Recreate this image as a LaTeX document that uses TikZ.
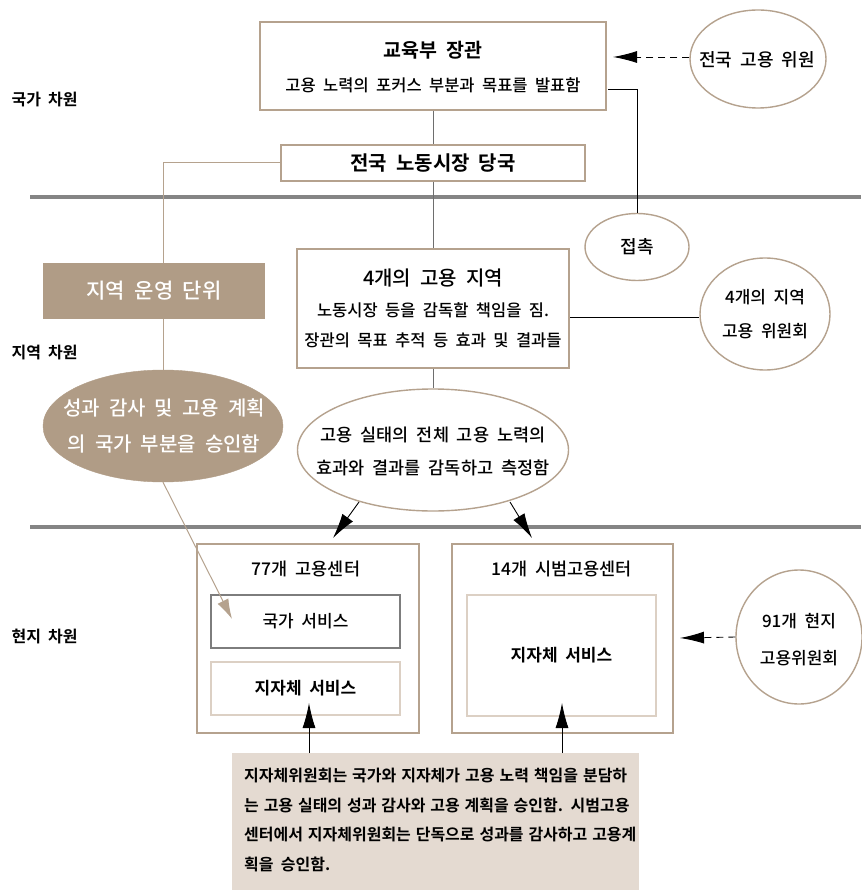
\documentclass[tikz,border=0pt]{standalone}
\usepackage{fontspec}
\setmainfont{Noto Sans CJK KR}[UprightFont=* Medium, BoldFont=* Bold, WordSpace=2]
\usetikzlibrary{arrows.meta,shapes.geometric,calc}
\definecolor{tanc}{RGB}{181,162,142}
\definecolor{tanfill}{RGB}{176,156,134}
\definecolor{lighttan}{RGB}{220,208,196}
\definecolor{notefill}{RGB}{228,218,209}
\definecolor{bandgray}{RGB}{133,133,133}
\definecolor{linegray}{RGB}{110,110,110}
\newcommand\fsz[1]{\fontsize{#1}{#1}\selectfont}
\begin{document}
\begin{tikzpicture}[x=1pt,y=-1pt,
  tanbox/.style={draw=tanc, line width=1.4pt, fill=white, inner sep=0pt},
  tanell/.style={ellipse, draw=tanc, line width=1.4pt, fill=white, inner sep=0pt},
  band/.style={draw=bandgray, line width=4pt},
  gline/.style={draw=linegray, line width=0.9pt},
  tline/.style={draw=tanc, line width=1pt},
  bline/.style={draw=black, line width=0.9pt},
  bigarrow/.style={bline, -{Latex[length=25pt,width=13pt]}},
  dasharrow/.style={bline, dashed, dash pattern=on 7pt off 5pt, -{Latex[length=24pt,width=12pt]}},
  lvl/.style={font=\bfseries\fsz{16}, anchor=west},
  every node/.style={text=black}
]
\useasboundingbox (0,0) rectangle (861,890);

% bands
\draw[band] (30,197) -- (861,197);
\draw[band] (30,527) -- (861,527);

% level labels
\node[lvl] (l1) at (8,100) {국가 차원};
\node[lvl] (l2) at (8,353) {지역 차원};
\node[lvl] (l3) at (8,636) {현지 차원};

% minister
\node[tanbox, minimum width=346pt, minimum height=88pt] (min) at (433,66) {};
\node[font=\bfseries\fsz{19.5}] (mint) at (433,50) {교육부 장관};
\node[font=\fsz{16.5}] (mins) at (433,85) {고용 노력의 포커스 부분과 목표를 발표함};

% national labour market authority
\node[tanbox, minimum width=304pt, minimum height=36pt, font=\bfseries\fsz{20}] (nla) at (433,163) {전국 노동시장 당국};

% national employment committee
\node[tanell, minimum width=136pt, minimum height=98pt] (nec) at (758,59) {};
\node[font=\fsz{18}] (nect) at (757,60) {전국 고용 위원};

% contact
\node[tanell, minimum width=104pt, minimum height=67pt] (contact) at (637,247) {};
\node[font=\fsz{18}] (contactt) at (637,247) {접촉};

% 4 regions box
\node[tanbox, minimum width=272pt, minimum height=119pt] (reg) at (433,308.5) {};
\node[font=\fsz{20}] (regt) at (433,278) {4개의 고용 지역};
\node[font=\fsz{16.5}] (reg2) at (433,310) {노동시장 등을 감독할 책임을 짐.};
\node[font=\fsz{16.5}] (reg3) at (433,340) {장관의 목표 추적 등 효과 및 결과들};

% 4 regional committees
\node[tanell, minimum width=130pt, minimum height=112pt] (rc) at (765,314) {};
\node[align=center, font=\fontsize{17}{34}\selectfont] (rct) at (765,314) {4개의 지역\\고용 위원회};

% monitoring ellipse
\node[tanell, minimum width=271pt, minimum height=122pt] (mon) at (433,450) {};
\node[align=center, font=\fontsize{17.5}{33}\selectfont] (mont) at (433,451) {고용 실태의 전체 고용 노력의\\효과와 결과를 감독하고 측정함};

% regional operating unit
\node[fill=tanfill, draw=tanfill, minimum width=221pt, minimum height=55pt, inner sep=0pt, font=\fsz{21}] (rou) at (154,291) {\color{white}지역 운영 단위};

% approval ellipse
\node[ellipse, fill=tanfill, draw=tanfill, minimum width=240pt, minimum height=112pt, inner sep=0pt] (appr) at (163,426) {};
\node[align=center, font=\fontsize{20}{36}\selectfont] (apprt) at (164,426) {\color{white}성과 감사 및 고용 계획\\\color{white}의 국가 부분을 승인함};

% 77 job centres
\node[tanbox, minimum width=222pt, minimum height=189pt] (jc) at (308,638.5) {};
\node[font=\fsz{17.5}] (jct) at (306,569) {77개 고용센터};
\node[draw=linegray!90, line width=1.3pt, fill=white, minimum width=189pt, minimum height=53pt, inner sep=0pt, font=\fsz{17}] (nat) at (305.5,621.5) {국가 서비스};
\node[draw=lighttan, line width=1.4pt, fill=white, minimum width=189pt, minimum height=53pt, inner sep=0pt, font=\bfseries\fsz{17}] (mun1) at (305.5,688.5) {지자체 서비스};

% 14 pilot job centres
\node[tanbox, minimum width=221pt, minimum height=189pt] (pc) at (562.5,638.5) {};
\node[font=\fsz{17.5}] (pct) at (561.5,569) {14개 시범고용센터};
\node[draw=lighttan, line width=1.4pt, fill=white, minimum width=189pt, minimum height=121pt, inner sep=0pt, font=\bfseries\fsz{17}] (mun2) at (561.5,655.5) {지자체 서비스};

% 91 local committees
\node[tanell, minimum width=126pt, minimum height=134pt] (lc) at (799,637) {};
\node[align=center, font=\fontsize{17}{37}\selectfont] (lct) at (799,640) {91개 현지\\고용위원회};

% note box
\node[fill=notefill, minimum width=407pt, minimum height=137pt, inner sep=0pt] (note) at (435.5,821.5) {};
\node[anchor=north west, align=left, font=\bfseries\fontsize{16}{29.5}\selectfont, inner sep=0pt] (notet) at (244,768) {%
\makebox[383pt][s]{지자체위원회는 국가와 지자체가 고용 노력 책임을 분담하}\\
\makebox[383pt][s]{는 고용 실태의 성과 감사와 고용 계획을 승인함. 시범고용}\\
\makebox[383pt][s]{센터에서 지자체위원회는 단독으로 성과를 감사하고 고용계}\\
획을 승인함.};

% connectors
\coordinate (regR) at (570,317);
\coordinate (minR) at (608,89);
\coordinate (tantip) at (232,619);
\coordinate (a1) at (359,502);
\coordinate (a2) at (510,502);
\coordinate (b1) at (309,753);
\coordinate (b2) at (562,753);
\coordinate (necTip) at (613,57);
\coordinate (lcTip) at (680,638);
\draw[gline] (min.south) -- (nla.north);
\draw[gline] (nla.south) -- (reg.north);
\draw[gline] (reg.south) -- (mon.north);
\draw[bline] (minR) -| (contact.north);
\draw[bline] (regR) -- (rc.west |- regR);
\draw[tline] (nla.west) -| (appr.north |- rou.north);
\draw[tline] (appr.north |- rou.south) -- (appr.north);
\draw[tline, -{Latex[length=20pt,width=12pt]}, tanc] (appr.south) -- (tantip);
\draw[dasharrow] (nec.west |- necTip) -- (necTip);
\draw[dasharrow] (lc.west) -- (lcTip);
\draw[bigarrow] (a1) -- (333,538);
\draw[bigarrow] (a2) -- (532,538);
\draw[bigarrow] (b1) -- (309,703);
\draw[bigarrow] (b2) -- (562,703);
\end{tikzpicture}
\end{document}
